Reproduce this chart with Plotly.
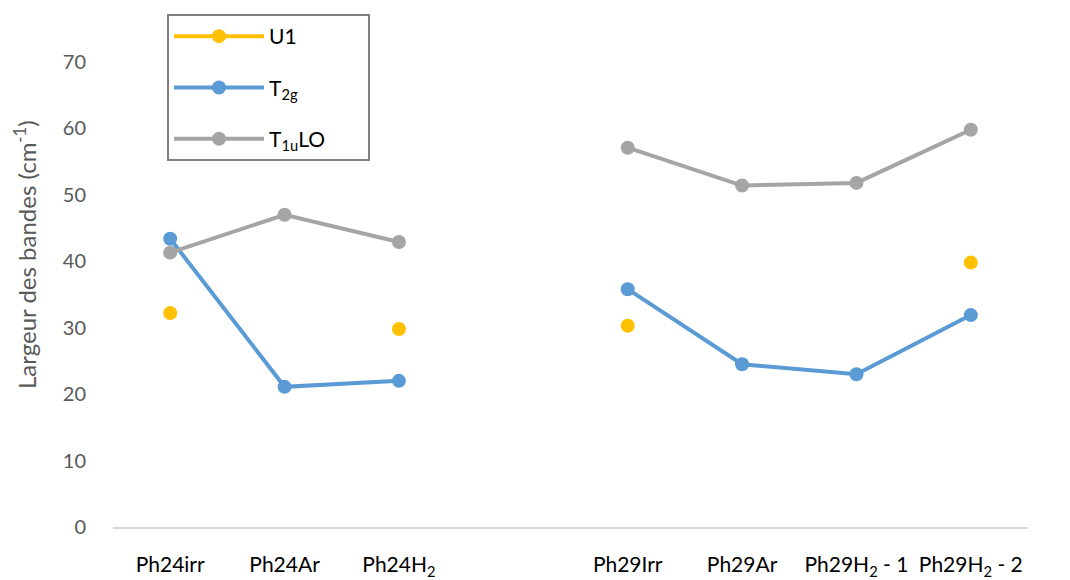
import plotly.graph_objects as go

categories = ["Ph24irr", "Ph24Ar", "Ph24H<sub>2</sub>", " ", "Ph29Irr", "Ph29Ar",
              "Ph29H<sub>2</sub> - 1", "Ph29H<sub>2</sub> - 2"]
u1 = [32.2, None, 29.8, None, 30.3, None, None, 39.8]
t2g = [43.4, 21.1, 22.0, None, 35.8, 24.5, 23.0, 31.9]
t1ulo = [41.3, 47.0, 42.9, None, 57.1, 51.4, 51.8, 59.8]
y_ticks = [0, 10, 20, 30, 40, 50, 60, 70]
y_title = "Largeur des bandes (cm<sup>-1</sup>)"

series = [
    ("U1", u1, "#FFC000", "g1"),
    ("T<sub>2g</sub>", t2g, "#5B9BD5", "g2"),
    ("T<sub>1u</sub>LO&nbsp;&nbsp;&nbsp;&nbsp;&nbsp;&nbsp;&nbsp;", t1ulo, "#A5A5A5", "g3"),
]

# page offset of 8px (body margin) is compensated in the margins
L, R, T, B = 105, 50, 54, 61
W, H = 1070, 580
pw, ph = W - L - R, H - T - B

fig = go.Figure()
for name, vals, color, grp in series:
    fig.add_trace(go.Scatter(
        x=categories, y=vals, name=name, mode="lines+markers",
        line=dict(color=color, width=4),
        marker=dict(color=color, size=14),
        connectgaps=False, legendgroup=grp,
    ))

fig.add_annotation(
    text=y_title, textangle=-90, showarrow=False,
    xref="paper", yref="paper",
    x=(17 - L) / pw, y=(H - B - 247) / ph,
    xanchor="center", yanchor="middle",
    font=dict(size=24, color="#595959"),
)

fig.update_layout(
    width=W, height=H,
    margin=dict(l=L, r=R, t=T, b=B, autoexpand=False),
    paper_bgcolor="white", plot_bgcolor="white",
    font=dict(family="Lato, Open Sans, sans-serif"),
    showlegend=True,
    legend=dict(
        x=(159 - L) / pw, y=1 + (T - 6) / ph,
        xanchor="left", yanchor="top",
        bgcolor="white", bordercolor="#7F7F7F", borderwidth=2,
        font=dict(size=21, color="#000000"),
        tracegroupgap=21, itemwidth=90,
    ),
    xaxis=dict(
        type="category", categoryorder="array", categoryarray=categories,
        showgrid=False, showline=True, linecolor="#D9D9D9", linewidth=2,
        ticks="", tickfont=dict(size=21, color="#000000"), tickangle=0,
        ticklabelstandoff=18,
        range=[-0.5, 7.5], automargin=False,
    ),
    yaxis=dict(
        range=[0, 70], tickvals=y_ticks, showgrid=False, zeroline=False,
        showline=False, ticks="", tickfont=dict(size=20, color="#595959"),
        ticklabelstandoff=26, automargin=False,
    ),
)

fig.write_html("out.html")
